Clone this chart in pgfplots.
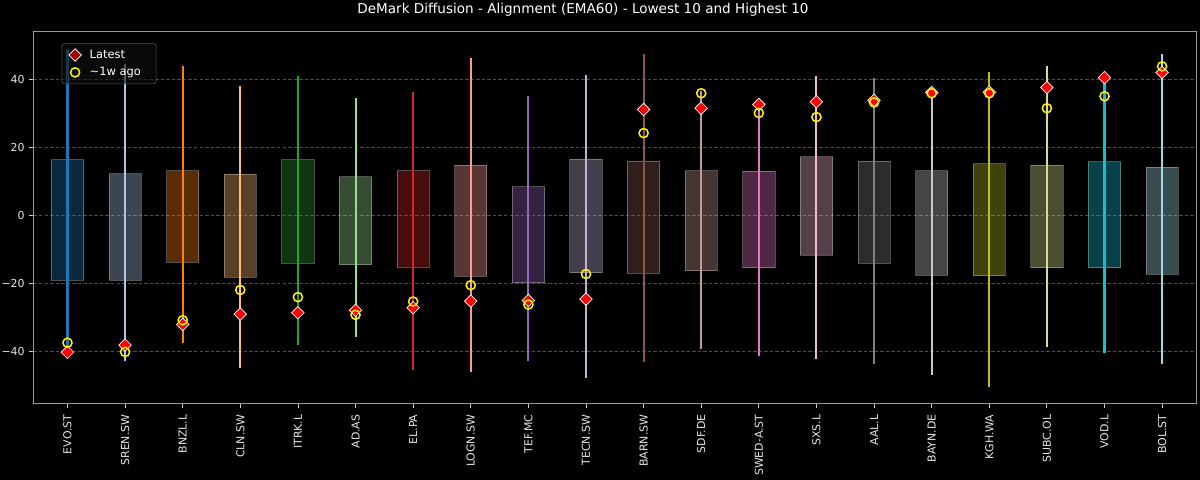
\documentclass[border=0pt]{standalone}
\usepackage{fontspec}
\setmainfont{DejaVu Sans}
\usepackage{pgfplots}
\pgfplotsset{compat=1.18}
\usepgfplotslibrary{statistics}
\usepackage{pgfplotstable}

% tab20
\definecolor{tA}{HTML}{1F77B4}
\definecolor{tB}{HTML}{AEC7E8}
\definecolor{tC}{HTML}{FF7F0E}
\definecolor{tD}{HTML}{FFBB78}
\definecolor{tE}{HTML}{2CA02C}
\definecolor{tF}{HTML}{98DF8A}
\definecolor{tG}{HTML}{D62728}
\definecolor{tH}{HTML}{FF9896}
\definecolor{tI}{HTML}{9467BD}
\definecolor{tJ}{HTML}{C5B0D5}
\definecolor{tK}{HTML}{8C564B}
\definecolor{tL}{HTML}{C49C94}
\definecolor{tM}{HTML}{E377C2}
\definecolor{tN}{HTML}{F7B6D2}
\definecolor{tO}{HTML}{7F7F7F}
\definecolor{tP}{HTML}{C7C7C7}
\definecolor{tQ}{HTML}{BCBD22}
\definecolor{tR}{HTML}{DBDB8D}
\definecolor{tS}{HTML}{17BECF}
\definecolor{tT}{HTML}{9EDAE5}

% latest / about a week ago
\pgfplotstableread{
x latest ago
0  -40.2 -37.4
1  -38.1 -40.1
2  -32.0 -30.8
3  -29.0 -21.9
4  -28.6 -24.0
5  -27.9 -29.2
6  -27.1 -25.3
7  -25.2 -20.5
8  -25.0 -26.2
9  -24.6 -17.2
10  31.1  24.2
11  31.5  35.9
12  32.6  30.1
13  33.4  28.9
14  33.8  33.2
15  36.1  35.9
16  36.2  35.9
17  37.6  31.5
18  40.5  35.0
19  42.0  43.8
}\marks

% \cat{pos}{colour}{box low}{box high}{line low}{line high}
\newcommand\cat[6]{%
  \addplot[forget plot,
    boxplot/draw direction=y,
    boxplot prepared={draw position=#1, lower whisker=#3, lower quartile=#3,
      median=#3, upper quartile=#4, upper whisker=#4, box extend=0.56},
    boxplot/every median/.style={draw=none},
    boxplot/every whisker/.style={draw=none},
    fill=#2, fill opacity=0.35, draw=white, draw opacity=0.3, line width=0.6pt]
    coordinates {};
  \addplot[forget plot, draw=#2, line width=1.5pt] coordinates {(#1,#5) (#1,#6)};
}

\begin{document}
\begin{tikzpicture}
\path[use as bounding box, fill=black] (-24.2pt,-55.1pt) rectangle (843.0pt,291.7pt);
\begin{axis}[
    at={(0,0)}, anchor=south west,
    width=840.6pt, height=269.3pt, scale only axis,
    xmin=-0.59, xmax=19.6, ymin=-55.3, ymax=54.2,
    axis line style={white!60!black, line width=0.6pt},
    xtick={0,...,19},
    xticklabels={EVO.ST,SREN.SW,BNZL.L,CLN.SW,ITRK.L,AD.AS,EL.PA,LOGN.SW,TEF.MC,TECN.SW,BARN.SW,SDF.DE,SWED-A.ST,SXS.L,AAL.L,BAYN.DE,KGH.WA,SUBC.OL,VOD.L,BOL.ST},
    ytick={-40,-20,0,20,40},
    yticklabels={−40,−20,0,20,40},
    xtick pos=bottom, ytick pos=left,
    tick align=outside, major tick length=2.9pt,
    tick style={white!80!black, line width=0.6pt},
    ticklabel style={font=\fontsize{7.9}{9}\selectfont, text=white!90!black},
    xticklabel style={rotate=90, anchor=east, xshift=-1.5pt},
    ymajorgrids,
    major grid style={white!30!black, dash pattern=on 2.5pt off 1.5pt, line width=0.6pt},
    legend style={at={(0.0242,0.967)}, anchor=north west,
      fill=white!6!black, fill opacity=0.6, text opacity=1,
      draw=white!35!black, rounded corners=2pt, text=white,
      font=\fontsize{8.3}{10}\selectfont, row sep=0pt,
      inner xsep=5pt, inner ysep=2pt,
      nodes={inner xsep=6pt, inner ysep=2.5pt}},
    legend cell align=left,
]
\cat{0}{tA}{-19.0}{16.4}{-38.5}{49.0}
\cat{1}{tB}{-19.0}{12.3}{-42.7}{44.6}
\cat{2}{tC}{-13.8}{13.2}{-37.4}{43.8}
\cat{3}{tD}{-18.1}{12.2}{-44.9}{37.9}
\cat{4}{tE}{-14.1}{16.4}{-38.1}{40.9}
\cat{5}{tF}{-14.5}{11.4}{-35.6}{34.4}
\cat{6}{tG}{-15.2}{13.1}{-45.4}{36.2}
\cat{7}{tH}{-17.8}{14.8}{-46.0}{46.4}
\cat{8}{tI}{-19.8}{8.4}{-42.7}{35.2}
\cat{9}{tJ}{-16.8}{16.6}{-47.9}{41.3}
\cat{10}{tK}{-16.9}{16.0}{-43.0}{47.3}
\cat{11}{tL}{-16.2}{13.1}{-39.1}{36.7}
\cat{12}{tM}{-15.4}{13.0}{-41.4}{33.5}
\cat{13}{tN}{-11.6}{17.2}{-42.2}{41.1}
\cat{14}{tO}{-14.0}{16.0}{-43.6}{40.5}
\cat{15}{tP}{-17.6}{13.2}{-46.9}{36.5}
\cat{16}{tQ}{-17.7}{15.2}{-50.4}{42.1}
\cat{17}{tR}{-15.4}{14.8}{-38.8}{43.8}
\cat{18}{tS}{-15.4}{15.8}{-40.5}{40.8}
\cat{19}{tT}{-17.3}{14.2}{-43.6}{47.3}

\addplot[only marks, mark=square*, mark size=3.2pt,
  mark options={rotate=45, fill=red, draw=white, line width=0.5pt}]
  table[x=x, y=latest] {\marks};
\addlegendentry{Latest}
\addplot[only marks, mark=o, mark size=3.3pt,
  mark options={draw=yellow, line width=1.1pt}]
  table[x=x, y=ago] {\marks};
\addlegendentry{\textasciitilde 1w ago}
\end{axis}
\node[text=white, font=\fontsize{9.8}{12}\selectfont] at (397.1pt,284.5pt)
  {DeMark Diffusion - Alignment (EMA60) - Lowest 10 and Highest 10};
\end{tikzpicture}
\end{document}
